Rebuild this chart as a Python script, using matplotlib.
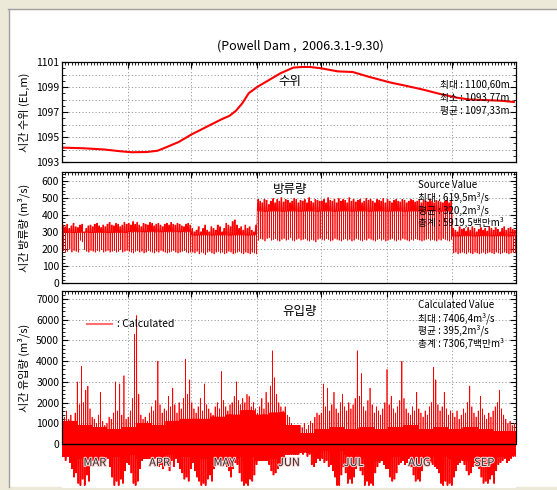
import matplotlib.pyplot as plt
import matplotlib.patheffects as pe
import numpy as np
from matplotlib.patches import Rectangle
from matplotlib.ticker import MultipleLocator, FixedLocator

plt.rcParams['font.family'] = ['Noto Sans CJK KR', 'DejaVu Sans']

months = ['MAR', 'APR', 'MAY', 'JUN', 'JUL', 'AUG', 'SEP']
month_days = [31, 30, 31, 30, 31, 31, 30]

# water level (EL.m), days counted from 3/1
level_day = [0, 10, 20, 28, 33, 40, 45, 48, 55, 61, 68, 75, 79, 82, 85, 88, 92, 97, 103, 109,
             113, 117, 122, 130, 137, 145, 155, 162, 170, 178, 186, 192, 200, 207, 213]
level_val = [1094.15, 1094.1, 1094.0, 1093.85, 1093.78, 1093.8, 1093.9, 1094.1, 1094.6, 1095.2,
             1095.8, 1096.4, 1096.7, 1097.1, 1097.7, 1098.5, 1099.0, 1099.5, 1100.1, 1100.55,
             1100.6, 1100.6, 1100.5, 1100.25, 1100.2, 1099.8, 1099.35, 1099.1, 1098.8, 1098.45,
             1098.15, 1098.0, 1097.95, 1097.9, 1097.8]

# outflow: daily peak / daily low (m3/s), monthly base level
out_peak = [340, 330, 345, 320, 335, 350, 330, 325, 340, 345, 300, 320, 335, 340, 330, 345, 350, 335, 325, 340, 330, 345, 355, 340, 335, 350, 345, 330, 340, 355, 345,
            350, 340, 360, 345, 355, 340, 330, 350, 345, 340, 355, 350, 335, 345, 350, 340, 330, 345, 350, 340, 355, 345, 340, 350, 345, 335, 330, 345, 350, 340,
            320, 300, 310, 330, 300, 320, 340, 310, 300, 330, 320, 310, 340, 330, 300, 320, 350, 340, 330, 360, 370, 340, 320, 330, 310, 340, 320, 330, 310, 300, 340,
            490, 480, 470, 490, 485, 460, 480, 495, 470, 490, 480, 500, 475, 490, 485, 470, 480, 495, 490, 470, 485, 480, 490, 470, 500, 480, 470, 490, 485, 480,
            480, 490, 470, 500, 485, 480, 490, 470, 495, 480, 490, 485, 470, 500, 480, 490, 475, 485, 490, 470, 480, 495, 485, 490, 480, 470, 490, 485, 480, 495, 470,
            490, 480, 470, 485, 490, 480, 475, 490, 485, 470, 480, 490, 485, 475, 480, 490, 470, 485, 480, 475, 490, 480, 470, 485, 480, 475, 470, 480, 485, 470, 480,
            320, 310, 300, 330, 315, 320, 305, 325, 310, 330, 320, 300, 315, 325, 310, 320, 305, 330, 320, 310, 325, 315, 300, 320, 330, 310, 320, 325, 315, 310]
out_low = [190, 180, 185, 200, 180, 190, 185, 180, 250, 240, 195, 185, 180, 190, 185, 180, 190, 185, 195, 180, 185, 190, 180, 185, 190, 180, 185, 195, 180, 185, 190,
           185, 180, 175, 185, 190, 180, 185, 175, 180, 190, 185, 180, 175, 185, 180, 190, 185, 180, 175, 180, 185, 190, 180, 175, 180, 185, 190, 180, 175, 180,
           180, 175, 185, 170, 180, 175, 165, 180, 185, 175, 170, 180, 185, 175, 180, 170, 175, 185, 180, 170, 175, 180, 185, 175, 170, 180, 175, 170, 180, 175, 170,
           250, 260, 255, 245, 260, 265, 250, 255, 260, 250, 245, 255, 260, 250, 255, 265, 250, 245, 255, 260, 250, 255, 260, 250, 245, 255, 250, 240, 255, 260,
           255, 250, 260, 255, 245, 250, 260, 255, 250, 245, 255, 260, 250, 255, 245, 250, 260, 255, 250, 245, 255, 250, 260, 255, 250, 245, 255, 260, 250, 255, 245,
           250, 255, 260, 250, 245, 255, 250, 260, 255, 250, 245, 255, 250, 260, 255, 250, 245, 250, 255, 260, 250, 255, 250, 245, 255, 250, 260, 255, 250, 245, 255,
           175, 180, 170, 175, 180, 175, 170, 180, 175, 170, 180, 175, 170, 175, 180, 170, 175, 180, 175, 170, 180, 175, 170, 175, 180, 175, 170, 175, 180, 175]
out_base = [295, 300, 280, 420, 420, 420, 275]

# inflow: daily peak / daily trough (m3/s)
in_peak = [1500, 1300, 1600, 1200, 1400, 1100, 1500, 3000, 1900, 3750, 2000, 2600, 2800, 1700, 1300, 1200, 1000, 1400, 2500, 1100, 900, 1000, 1300, 1200, 1500, 3000, 1600, 2900, 1400, 3300, 1200,
           1300, 1600, 2200, 5300, 6200, 2400, 1400, 1200, 1300, 1100, 1500, 1800, 1600, 2100, 4000, 1900, 1500, 1700, 1600, 2300, 1800, 2700, 1900, 1500, 2000, 1700, 2200, 4100, 2400, 3100,
           2000, 1700, 1500, 1800, 2200, 1600, 2900, 1900, 1700, 1500, 1400, 1800, 2000, 1700, 3500, 2100, 1800, 1600, 1900, 2000, 2300, 3000, 2100, 1900, 2200, 2000, 2400, 2300, 1800, 2000, 1700,
           1500, 1800, 2200, 1700, 2500, 2000, 2800, 4500, 3200, 2400, 2000, 1800, 1600, 1800, 1400, 1300, 1000, 900, 800, 700, 900, 800, 1000, 700, 900, 1100, 1000, 1300, 1500, 1400,
           1500, 2900, 1800, 2700, 1600, 1900, 2500, 1700, 1500, 2000, 2400, 1800, 1600, 2000, 1700, 1900, 2200, 4500, 2300, 3400, 1800, 1600, 2100, 2700, 1900, 1500, 1800, 1600, 1400, 1700, 2000,
           3600, 1900, 2300, 1700, 1500, 1800, 2100, 4000, 2200, 1700, 1500, 1400, 1800, 1600, 2500, 1700, 1500, 1300, 1600, 1400, 1800, 2000, 3700, 3100, 1900, 1600, 1800, 2500, 1700, 1400, 1600,
           1500, 1300, 1600, 1200, 1400, 1700, 1500, 2000, 2800, 1800, 1500, 1300, 1600, 2300, 1700, 1400, 1200, 1500, 1300, 1600, 1800, 2000, 2600, 1700, 1400, 1200, 1000, 1100, 900, 1000]
in_trough = [-600, -800, -500, -900, -1200, -1600, -1400, -1900, -2000, -1700, -2000, -1500, -1800, -1000, -700, -600, -400, -800, -900, -500, -600, -700, -1100, -1600, -2000, -1800, -2000, -1700, -1900, -1300, -900,
             -1000, -1400, -1900, -2000, -1800, -1200, -800, -600, -500, -700, -600, -900, -700, -800, -1100, -1000, -1200, -900, -1000, -1300, -800, -1100, -700, -900, -1200, -1400, -1700, -1600, -1800, -1200,
             -900, -1300, -1600, -1800, -2000, -1900, -2000, -1700, -1500, -1800, -1200, -800, -600, -900, -700, -1000, -1100, -1300, -1600, -1200, -900, -1000, -1400, -1800, -2000, -1900, -2000, -1700, -1800, -1500, -1000,
             -400, -600, -500, -800, -700, -1000, -1300, -1500, -1400, -1200, -1000, -700, -500, -400, -500, -300, -400, -300, -400, -300, -400, -500, -300, -600, -500, -1000, -1100, -900, -700, -800,
             -700, -900, -800, -1100, -1000, -1300, -1600, -2000, -2000, -1500, -1100, -1400, -1900, -1700, -1900, -1600, -1200, -1000, -1300, -1500, -2000, -1800, -2000, -1900, -2000, -1400, -1100, -900, -800, -1000, -1200,
             -1200, -1600, -1800, -1700, -1400, -1000, -900, -800, -1000, -900, -700, -1100, -1500, -1800, -1700, -1800, -1300, -900, -800, -700, -900, -1000, -1100, -1200, -1400, -1900, -2000, -1800, -2000, -1900, -2000,
             -1600, -1300, -1000, -900, -800, -1000, -1300, -1500, -1400, -1100, -900, -1000, -1200, -1600, -1900, -1800, -1900, -1700, -1500, -1900, -1300, -1000, -900, -800, -700, -900, -800, -700, -600, -600]
# inflow dense band, one value per week
in_band_top = [1100, 900, 800, 700, 800, 1000, 900, 1100, 1200, 1200, 1300, 1400, 1600, 1400, 1500, 900,
               500, 700, 800, 700, 800, 700, 800, 900, 700, 800, 700, 800, 700, 600, 600]
in_band_bot = [-600, -700, -800, -600, -500, -700, -600, -500, -600, -700, -800, -700, -600, -800, -700, -500,
               -400, -300, -300, -500, -700, -800, -600, -700, -800, -600, -700, -800, -700, -600, -500]

red = '#ff0000'
grid_c = '#9a9a9a'
grid_ls = (0, (1.2, 2.2))
n_days = sum(month_days)
bounds = np.cumsum(month_days)[:-1]
mids = np.cumsum(month_days) - np.array(month_days) / 2
midx = np.repeat(np.arange(7), month_days)
days = np.arange(n_days)

# outflow trace: base, peak, base, peak, low, base each day
ob = np.array(out_base)[midx]
t_out = (days[:, None] + np.array([0, 0.2, 0.4, 0.6, 0.68, 0.76])).ravel()
y_out = np.column_stack([ob, out_peak, ob, out_peak, out_low, ob]).ravel()

# inflow trace: dense band plus one peak and two troughs per day
bt = np.array(in_band_top)[days // 7]
bb = np.array(in_band_bot)[days // 7]
t_in = (days[:, None] + np.arange(10) / 10).ravel()
y_in = np.column_stack([bt, bb, in_peak, bb, bt, in_trough, bt, bb, bt, in_trough]).ravel()

fig = plt.figure(figsize=(5.57, 4.90), dpi=100)
W, H = 557, 490

# window frame
fig.patches.append(Rectangle((0, 1 - 9 / H), 1, 9 / H, transform=fig.transFigure, color='#ece9d8', zorder=-5))
fig.patches.append(Rectangle((0, 0), 8 / W, 1, transform=fig.transFigure, color='#ece9d8', zorder=-5))
fig.patches.append(Rectangle((0, 0), 1, 3 / H, transform=fig.transFigure, color='#ece9d8', zorder=-5))
fig.add_artist(plt.Line2D([8 / W, 1], [1 - 9 / H, 1 - 9 / H], transform=fig.transFigure, color='#a0a0a0', lw=1))
fig.add_artist(plt.Line2D([8.5 / W, 8.5 / W], [3 / H, 1 - 9 / H], transform=fig.transFigure, color='#a0a0a0', lw=1))

fig.text(300 / W, 1 - 46 / H, '(Powell Dam ,  2006.3.1-9.30)', ha='center', va='center', fontsize=9)


def pos(top, bottom):
    return [62 / W, 1 - bottom / H, 454 / W, (bottom - top) / H]


def style(ax, ymaj, ymin, hlines, vlo, ytop):
    ax.set_xlim(0, n_days)
    ax.set_xticks(bounds)
    ax.set_xticklabels([])
    ax.xaxis.set_minor_locator(MultipleLocator(1.5))
    ax.tick_params(axis='x', which='both', bottom=False, top=True, direction='in')
    ax.tick_params(axis='x', which='major', length=4)
    ax.tick_params(axis='x', which='minor', length=2, width=0.6)
    ax.yaxis.set_major_locator(MultipleLocator(ymaj))
    ax.yaxis.set_minor_locator(MultipleLocator(ymin))
    ax.tick_params(axis='y', which='both', left=True, right=True, direction='in', labelsize=7.5, pad=2)
    ax.tick_params(axis='y', which='major', length=4)
    ax.tick_params(axis='y', which='minor', length=2, width=0.6)
    ax.vlines(bounds, vlo, ytop, colors=grid_c, linestyles=grid_ls, lw=0.7, zorder=0)
    for v in hlines:
        ax.axhline(v, color=grid_c, ls=grid_ls, lw=0.7, zorder=0)
    for s in ax.spines.values():
        s.set_linewidth(0.9)


# panel 1: water level
ax1 = fig.add_axes(pos(62, 162))
ax1.plot(level_day, level_val, color=red, lw=1.5)
ax1.set_ylim(1093, 1101)
style(ax1, 1, 0.5, range(1094, 1101), 1093, 1101)
ax1.set_yticks([1093, 1095, 1097, 1099, 1101])
ax1.yaxis.set_minor_locator(MultipleLocator(0.5))
ax1.set_ylabel('시간 수위 (EL,m)', fontsize=8)
ax1.yaxis.set_label_coords(-0.07, 0.5)
ax1.text(0.502, 0.80, '수위', transform=ax1.transAxes, ha='center', va='center', fontsize=9)
for i, s in enumerate(['최대 : 1100,60m', '최소 : 1093,77m', '평균 : 1097,33m']):
    ax1.text(0.833, 0.77 - 0.13 * i, s, transform=ax1.transAxes, va='center', fontsize=7)

# panel 2: outflow
ax2 = fig.add_axes(pos(172, 283))
ax2.plot(t_out, y_out, color=red, lw=0.5)
ax2.set_ylim(0, 650)
style(ax2, 100, 20, range(100, 601, 100), 0, 650)
ax2.set_ylabel('시간 방류량 (m³/s)', fontsize=8)
ax2.yaxis.set_label_coords(-0.07, 0.5)
ax2.text(0.502, 0.838, '방류량', transform=ax2.transAxes, ha='center', va='center', fontsize=9)
for i, s in enumerate(['Source Value', '최대 : 619,5m³/s', '평균 : 320,2m³/s', '총계 : 5919,5백만m³']):
    ax2.text(0.784, 0.883 - 0.114 * i, s, transform=ax2.transAxes, va='center', fontsize=7)

# panel 3: inflow
ytop3 = 7386
ax3 = fig.add_axes(pos(291, 488))
ax3.plot(t_in, y_in, color=red, lw=0.5)
ax3.set_ylim(-2124, ytop3)
style(ax3, 1000, 200, range(1000, 7001, 1000), 0, ytop3)
ax3.set_yticks(np.arange(0, 7001, 1000))
ax3.yaxis.set_minor_locator(FixedLocator(np.arange(0, ytop3, 200)))
ax3.spines['bottom'].set_visible(False)
ax3.spines['left'].set_bounds(0, ytop3)
ax3.spines['right'].set_bounds(0, ytop3)
ax3.axhline(0, color='black', lw=1, zorder=3)
ax3.set_ylabel('시간 유입량 (m³/s)', fontsize=8)
ax3.yaxis.set_label_coords(-0.07, 0.612)
for m, x in zip(months, mids):
    ax3.text(x, 0.127, m, transform=ax3.get_xaxis_transform(), ha='center', va='center',
             fontsize=8, color='#303030', zorder=4,
             path_effects=[pe.withStroke(linewidth=1.5, foreground='#ffd0d0')])
ax3.text(0.524, 0.898, '유입량', transform=ax3.transAxes, ha='center', va='center', fontsize=9)
ax3.plot([0.055, 0.110], [0.832, 0.832], transform=ax3.transAxes, color='#ff7070', lw=1.5)
ax3.text(0.121, 0.832, ': Calculated', transform=ax3.transAxes, va='center', fontsize=7.5)
for i, s in enumerate(['Calculated Value', '최대 : 7406,4m³/s', '평균 : 395,2m³/s', '총계 : 7306,7백만m³']):
    ax3.text(0.784, 0.929 - 0.065 * i, s, transform=ax3.transAxes, va='center', fontsize=7)

fig.savefig('out.png', dpi=100, facecolor='white')
